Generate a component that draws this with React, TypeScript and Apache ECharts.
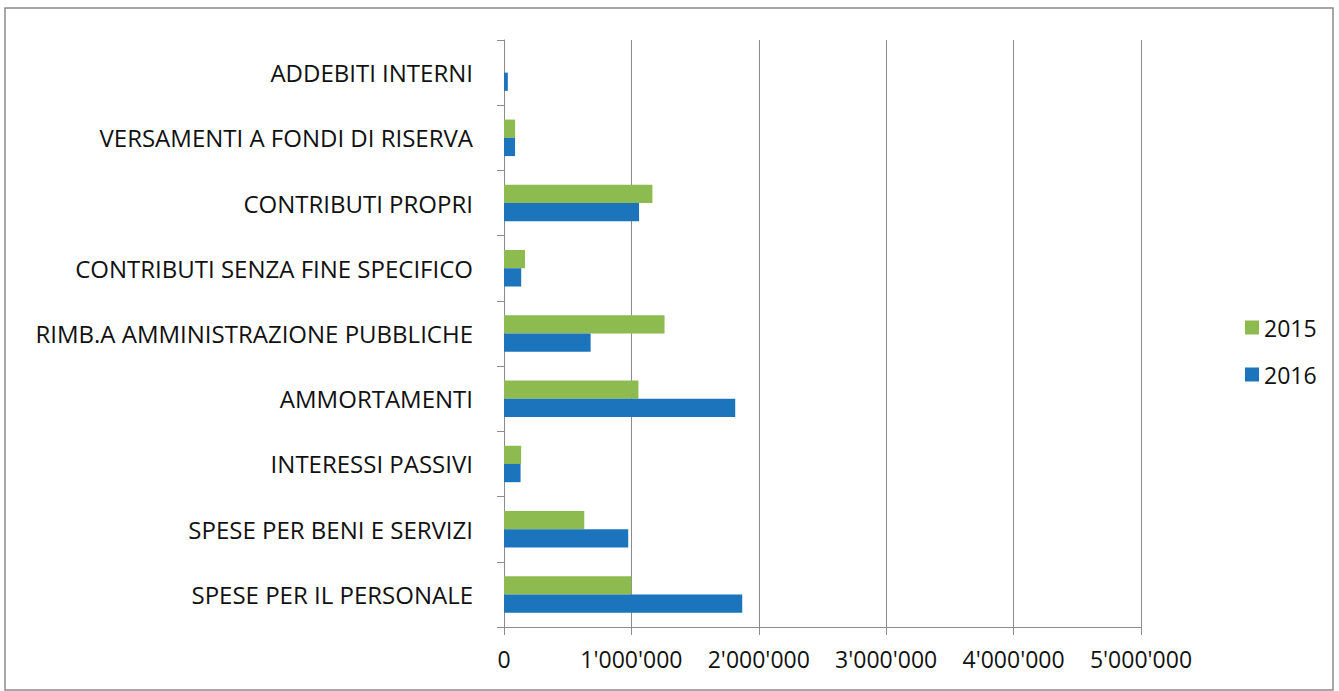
import React, { useEffect, useRef } from "react";
import * as echarts from "echarts";

const categories = [
  "SPESE PER IL PERSONALE",
  "SPESE PER BENI E SERVIZI",
  "INTERESSI PASSIVI",
  "AMMORTAMENTI",
  "RIMB.A AMMINISTRAZIONE PUBBLICHE",
  "CONTRIBUTI SENZA FINE SPECIFICO",
  "CONTRIBUTI PROPRI",
  "VERSAMENTI A FONDI DI RISERVA",
  "ADDEBITI INTERNI",
];
const values2015 = [1000000, 630000, 135000, 1055000, 1260000, 165000, 1165000, 87000, 0];
const values2016 = [1870000, 975000, 130000, 1815000, 680000, 135000, 1060000, 87000, 30000];
const seriesNames = ["2015", "2016"];
const xTicks = [0, 1000000, 2000000, 3000000, 4000000, 5000000];

const fmt = (v: number) => String(v).replace(/\B(?=(\d{3})+(?!\d))/g, "'");

export default function App() {
  const ref = useRef<HTMLDivElement>(null);
  useEffect(() => {
    document.body.style.margin = "0";
    const chart = echarts.init(ref.current!, null, { renderer: "svg" });
    const font = "'Open Sans', 'Noto Sans', sans-serif";
    chart.setOption({
      animation: false,
      backgroundColor: "#ffffff",
      textStyle: { fontFamily: font },
      graphic: [
        {
          type: "rect",
          shape: { x: 5, y: 8, width: 1328, height: 682 },
          style: { fill: "none", stroke: "#8a8a8a", lineWidth: 1.5 },
        },
      ],
      legend: {
        data: seriesNames,
        orient: "vertical",
        left: 1240,
        top: 311,
        itemGap: 24,
        itemWidth: 14,
        itemHeight: 14,
        icon: "rect",
        textStyle: { fontSize: 23, color: "#111", fontFamily: font, fontWeight: 500 },
      },
      grid: { left: 504, right: 198, top: 40, bottom: 64, containLabel: false },
      xAxis: {
        type: "value",
        min: 0,
        max: 5000000,
        interval: 1000000,
        axisLine: { show: true, lineStyle: { color: "#8c8c8c", width: 1 } },
        axisTick: { show: true, length: 8, lineStyle: { color: "#8c8c8c" } },
        splitLine: { show: true, lineStyle: { color: "#8c8c8c", width: 1 } },
        axisLabel: {
          formatter: (v: number) => (xTicks.includes(v) ? fmt(v) : ""),
          fontSize: 23,
          color: "#111",
          margin: 20,
          fontFamily: font,
          fontWeight: 500,
        },
      },
      yAxis: {
        type: "category",
        data: categories,
        axisLine: { show: true, lineStyle: { color: "#8c8c8c", width: 1 } },
        axisTick: { show: true, length: 7, lineStyle: { color: "#8c8c8c" } },
        axisLabel: { fontSize: 24, color: "#111", margin: 31, fontFamily: font, fontWeight: 500 },
      },
      series: [
        {
          name: "2015",
          type: "bar",
          data: values2015,
          itemStyle: { color: "#8dbb4f" },
          barGap: "0%",
          barCategoryGap: "44%",
        },
        {
          name: "2016",
          type: "bar",
          data: values2016,
          itemStyle: { color: "#1c75bc" },
          barGap: "0%",
          barCategoryGap: "44%",
        },
      ],
    });
    return () => chart.dispose();
  }, []);
  return <div ref={ref} style={{ width: 1339, height: 691 }} />;
}
